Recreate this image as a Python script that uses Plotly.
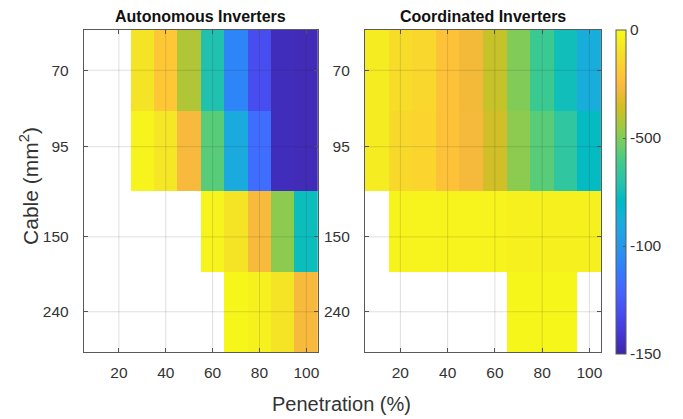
import plotly.graph_objects as go

# ---------------- data ----------------
penetration = [10, 20, 30, 40, 50, 60, 70, 80, 90, 100]
cable_labels = ["70", "95", "150", "240"]
cable_rows = [1, 2, 3, 4]
cable_tick_pos = [1.0, 1.95, 3.07, 4.0]
x_ticks = [20, 40, 60, 80, 100]
N = None
autonomous = [
    [N, N, -9, -20, -42, -72, -108, -131, -146, -147],
    [N, N, -3, -8, -26, -57, -90, -117, -146, -147],
    [N, N, N, N, N, -3, -9, -26, -48, -76],
    [N, N, N, N, N, N, -2, -4, -9, -26],
]
coordinated = [
    [-6, -12, -14, -22, -28, -38, -50, -63, -75, -88],
    [-6, -13, -15, -22, -27, -36, -48, -57, -67, -78],
    [N, -3, -3, -3, -3, -3, -4, -4, -4, -4],
    [N, N, N, N, N, N, -2, -2, -2, N],
]
cbar_vals = [0, -50, -100, -150]
cbar_text = ["0", "-500", "-100", "-150"]
titles = ["Autonomous Inverters", "Coordinated Inverters"]

# ---------------- style ----------------
PARULA = """0.2422 0.1504 0.6603;0.2504 0.1650 0.7076;0.2578 0.1818 0.7511;0.2647 0.1978 0.7952;
0.2706 0.2147 0.8364;0.2751 0.2342 0.8710;0.2783 0.2559 0.8991;0.2803 0.2782 0.9221;
0.2813 0.3006 0.9414;0.2810 0.3228 0.9579;0.2795 0.3447 0.9717;0.2760 0.3667 0.9829;
0.2699 0.3892 0.9906;0.2602 0.4123 0.9952;0.2440 0.4358 0.9988;0.2206 0.4603 0.9973;
0.1963 0.4847 0.9892;0.1834 0.5074 0.9798;0.1786 0.5289 0.9682;0.1764 0.5499 0.9520;
0.1687 0.5703 0.9359;0.1540 0.5902 0.9218;0.1460 0.6091 0.9079;0.1380 0.6276 0.8973;
0.1248 0.6459 0.8883;0.1113 0.6635 0.8763;0.0952 0.6798 0.8598;0.0689 0.6948 0.8394;
0.0297 0.7082 0.8163;0.0036 0.7203 0.7917;0.0067 0.7312 0.7660;0.0433 0.7411 0.7394;
0.0964 0.7500 0.7120;0.1408 0.7584 0.6842;0.1717 0.7670 0.6554;0.1938 0.7758 0.6251;
0.2161 0.7843 0.5923;0.2470 0.7918 0.5567;0.2906 0.7973 0.5188;0.3406 0.8008 0.4789;
0.3909 0.8029 0.4354;0.4456 0.8024 0.3909;0.5044 0.7993 0.3480;0.5616 0.7942 0.3045;
0.6174 0.7876 0.2612;0.6720 0.7793 0.2227;0.7242 0.7698 0.1910;0.7738 0.7598 0.1646;
0.8203 0.7498 0.1535;0.8634 0.7406 0.1596;0.9035 0.7330 0.1774;0.9393 0.7288 0.2100;
0.9728 0.7298 0.2394;0.9956 0.7434 0.2371;0.9970 0.7659 0.2199;0.9952 0.7893 0.2028;
0.9892 0.8136 0.1885;0.9786 0.8386 0.1766;0.9676 0.8639 0.1643;0.9610 0.8890 0.1537;
0.9597 0.9135 0.1423;0.9628 0.9373 0.1265;0.9691 0.9606 0.1064;0.9769 0.9839 0.0805"""
rows = [r.split() for r in PARULA.replace("\n", "").split(";")]
colorscale = []
for i, r in enumerate(rows):
    rgb = "rgb(%d,%d,%d)" % tuple(round(float(v) * 255) for v in r)
    colorscale.append([i / (len(rows) - 1), rgb])

W, H = 683, 419
FONT = "Liberation Sans, Arial, sans-serif"
TXT = "#333333"
AXC = "#5a5a5a"
GRID = "rgba(38,38,38,0.15)"

xdoms = [[84 / W, 319 / W], [366 / W, 603 / W]]
ydom = [1 - 352 / H, 1 - 30 / H]

fig = go.Figure()
for k, z in enumerate([autonomous, coordinated]):
    sfx = "" if k == 0 else "2"
    fig.add_trace(go.Heatmap(
        x=penetration, y=cable_rows, z=z, coloraxis="coloraxis",
        xaxis="x" + sfx, yaxis="y" + sfx, hoverongaps=False))

axis_common = dict(showline=True, linecolor=AXC, linewidth=1, mirror="ticks",
                   ticks="inside", ticklen=4, tickcolor=AXC, showgrid=False,
                   zeroline=False, tickfont=dict(size=15.5, color=TXT, family=FONT))

layout = dict(
    width=W, height=H, margin=dict(l=0, r=0, t=0, b=0),
    paper_bgcolor="white", plot_bgcolor="white",
    font=dict(family=FONT, color=TXT),
    coloraxis=dict(
        colorscale=colorscale, cmin=-150, cmax=0,
        colorbar=dict(x=617.5 / W, xanchor="left", y=ydom[1], yanchor="top",
                      len=324 / H, lenmode="fraction", thickness=10,
                      thicknessmode="pixels", outlinewidth=1, outlinecolor=AXC,
                      tickvals=cbar_vals, ticktext=cbar_text, ticks="inside",
                      ticklen=3, tickcolor=AXC, xpad=0, ypad=0,
                      tickfont=dict(size=15.5, color=TXT, family=FONT))),
    showlegend=False,
)
for k in range(2):
    sfx = "" if k == 0 else "2"
    layout["xaxis" + sfx] = dict(axis_common, domain=xdoms[k], range=[5, 105],
                                 tickvals=x_ticks, anchor="y" + sfx,
                                 ticklabelstandoff=6)
    layout["yaxis" + sfx] = dict(axis_common, domain=ydom, range=[4.5, 0.5],
                                 tickvals=cable_tick_pos, ticktext=cable_labels,
                                 anchor="x" + sfx, ticklabelstandoff=11)
fig.update_layout(**layout)

shapes = []
for k in range(2):
    sfx = "" if k == 0 else "2"
    for xv in x_ticks:
        shapes.append(dict(type="line", xref="x" + sfx, yref="y" + sfx + " domain",
                           x0=xv, x1=xv, y0=0, y1=1, layer="above",
                           line=dict(color=GRID, width=1)))
    for yv in cable_tick_pos:
        shapes.append(dict(type="line", xref="x" + sfx + " domain", yref="y" + sfx,
                           x0=0, x1=1, y0=yv, y1=yv, layer="above",
                           line=dict(color=GRID, width=1)))
fig.update_layout(shapes=shapes)

ann = []
for k in range(2):
    ann.append(dict(text="<b>%s</b>" % titles[k], xref="paper", yref="paper",
                    x=sum(xdoms[k]) / 2, y=1 - 16 / H, xanchor="center",
                    yanchor="middle", showarrow=False,
                    font=dict(size=16, color="#111111", family=FONT)))
ann.append(dict(text="Penetration (%)", xref="paper", yref="paper",
                x=343 / W, y=1 - 404 / H, xanchor="center", yanchor="middle",
                showarrow=False, font=dict(size=20, color=TXT, family=FONT)))
ann.append(dict(text="Cable (mm<sup>2</sup>)", xref="paper", yref="paper",
                x=29 / W, y=1 - 186 / H, xanchor="center", yanchor="middle",
                textangle=-90, showarrow=False,
                font=dict(size=21, color=TXT, family=FONT)))
fig.update_layout(annotations=ann)

fig.write_html("out.html", config={"displayModeBar": False},
               post_script="document.body.style.margin='0px';document.body.style.padding='0px';")
